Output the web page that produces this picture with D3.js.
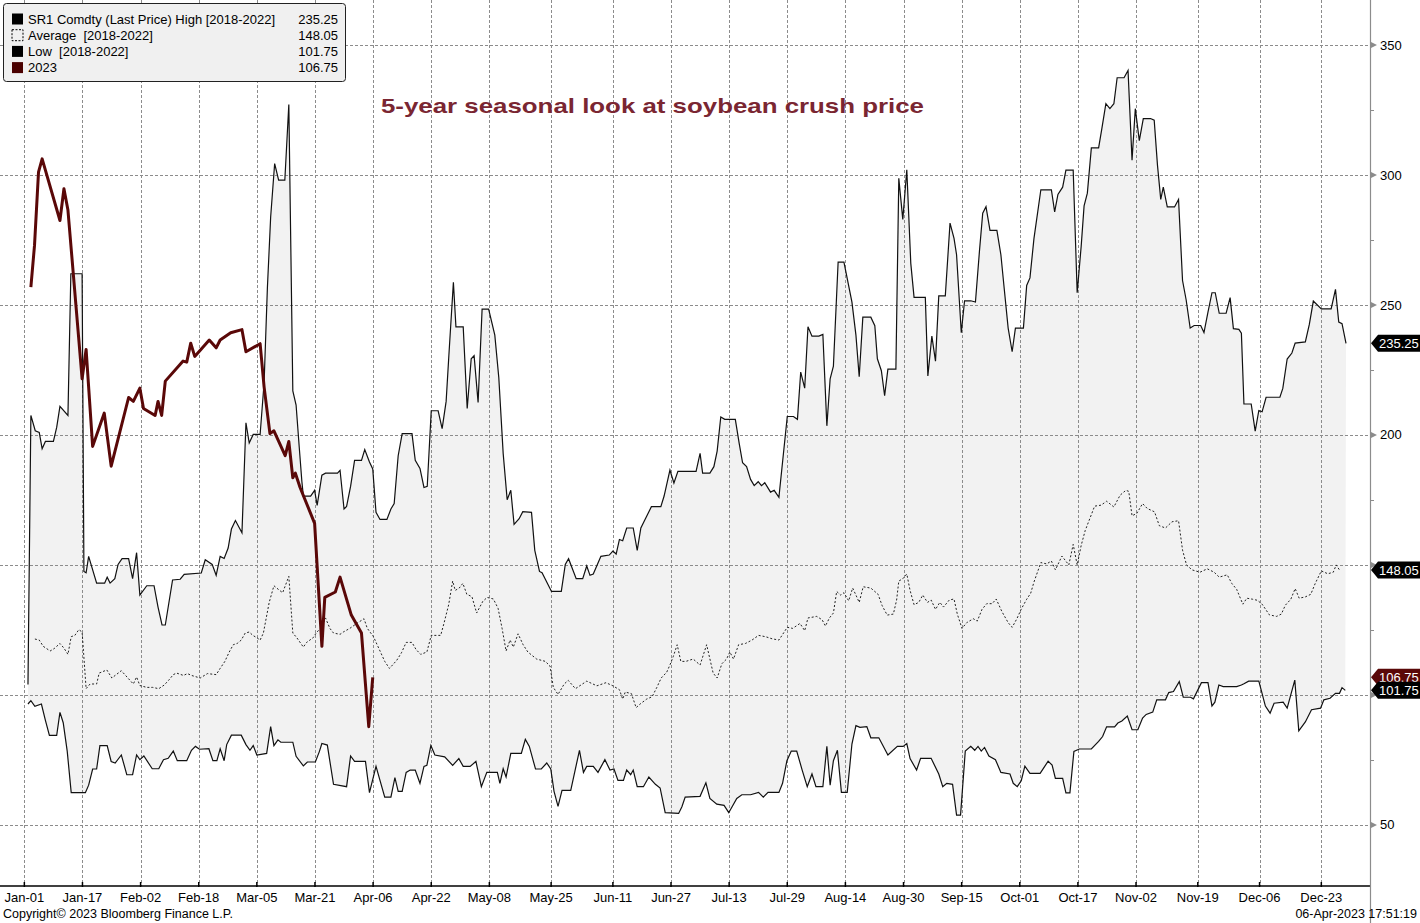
<!DOCTYPE html>
<html>
<head>
<meta charset="utf-8">
<script src="https://cdn.jsdelivr.net/npm/d3@7"></script>
<style>
  body { margin: 0; background: #fff; }
  svg text { font-family: "Liberation Sans", Arial, sans-serif; }
</style>
</head>
<body>
<div id="chart"></div>
<script>
const width = 1420
const height = 923
const plotRight = 1370
const plotBottom = 886

// x tick labels (seasonal calendar, leap-year based)
const tickLabels = ["Jan-01", "Jan-17", "Feb-02", "Feb-18", "Mar-05", "Mar-21", "Apr-06", "Apr-22",
    "May-08", "May-25", "Jun-11", "Jun-27", "Jul-13", "Jul-29", "Aug-14", "Aug-30", "Sep-15",
    "Oct-01", "Oct-17", "Nov-02", "Nov-19", "Dec-06", "Dec-23"]
const yTicks = [50, 100, 150, 200, 250, 300, 350]
const yMinorTicks = [75, 125, 175, 225, 275, 325]

// [day of year, value]
const high = [[1.0,104],[1.8,207.5],[3.0,201.6],[4.1,201],[4.9,194.7],[5.8,197.5],[8.0,197.5],[8.9,202.9],[9.8,211],[12.0,207.5],
    [12.8,262],[15.9,262],[16.4,147.5],[17.0,147],[17.7,153.3],[19.9,143],[22.1,143],[22.8,145.3],[23.6,143],[24.9,144.7],
    [25.8,150.2],[26.9,152.4],[28.7,152.4],[29.8,144.7],[30.9,154.7],[31.8,138.4],[33.7,142],[35.7,142],[36.8,133.8],[37.9,126.9],
    [38.8,126.9],[40.8,144.2],[42.9,144.5],[44.0,146.4],[48.7,146.9],[49.8,152],[51.7,150.2],[52.8,146],[53.9,153.3],[55.0,152.5],
    [56.1,156.5],[57.0,163.8],[58.1,167.1],[59.9,162.4],[61.0,204.7],[61.9,196.9],[63.0,200.2],[64.9,200.2],[66.0,220.2],[66.9,256.5],
    [67.8,283.8],[68.9,304.4],[70.0,298],[71.7,298],[72.8,327.1],[73.9,216.9],[74.8,211.5],[75.7,194.7],[76.4,182],[76.8,176.5],
    [78.8,176.5],[79.9,178.7],[80.6,172.9],[81.9,184.5],[82.9,185.3],[86.2,185.3],[86.9,186.4],[88.0,171.5],[88.7,172.5],[89.8,180.2],
    [90.9,190.2],[92.8,190.2],[93.7,194.4],[95.0,189.6],[95.9,186.9],[96.8,170.2],[97.9,167.5],[99.8,167.5],[100.9,171.5],[101.8,173.6],
    [102.9,192],[104.0,200.5],[106.7,200.5],[107.6,190.2],[108.9,187.1],[110.0,179.8],[110.9,180.2],[112.0,209.3],[113.9,209.3],[115.0,202.4],
    [116.1,212.9],[116.8,229.3],[118.1,258.7],[118.8,241.6],[120.8,241.6],[121.9,210.2],[123.0,229.3],[123.8,230.5],[124.9,212.5],[126.0,248.4],
    [127.8,248.4],[129.5,238.4],[130.6,222],[131.8,192.9],[132.9,175.1],[133.9,178.7],[134.8,165.6],[136.2,167.8],[137.2,170.5],[139.6,170.2],
    [140.5,155.6],[141.8,147.5],[142.5,147],[145.1,139.8],[147.8,139.8],[148.9,150.2],[149.8,152.4],[151.9,144.7],[153.7,144.7],[154.8,149.6],
    [155.7,146],[156.6,146.5],[158.7,153.3],[161.0,153.8],[162.0,155.3],[162.9,154.2],[163.8,159.8],[164.7,159.3],[165.8,164.2],[167.6,164.2],
    [168.7,155.6],[169.7,164.2],[171.5,169.3],[172.6,172.4],[175.2,172.4],[176.1,176.5],[177.7,186.5],[178.8,181.5],[179.9,186],[184.9,186],
    [186.0,192.9],[186.7,185.3],[188.7,185.3],[189.8,187.8],[190.7,193.8],[191.7,206.9],[192.8,206],[195.7,206],[196.8,196.5],[197.7,189.3],
    [198.8,187.8],[199.9,182.9],[200.9,180.5],[202.0,182],[202.9,180.5],[203.8,181.6],[205.4,178],[206.4,178.7],[207.7,176],[210.0,207.1],
    [211.7,207.1],[212.8,206],[213.7,224.2],[214.8,218],[215.7,241.6],[216.8,238],[218.7,238],[219.8,238.7],[220.9,203.5],[221.8,221.6],
    [222.7,226.5],[224.0,266.5],[225.6,266.5],[227.8,251.1],[228.9,238.4],[229.8,222.4],[230.8,245.3],[233.0,245.3],[234.1,242],[234.8,229.3],
    [235.9,224.7],[236.8,215.1],[237.7,225.3],[239.9,225.3],[240.7,298.7],[241.8,282.9],[242.9,302],[244.0,266],[244.9,252.9],[248.0,252.9],
    [248.7,222.7],[249.8,238],[250.8,228.4],[251.7,253.5],[253.5,253.5],[254.8,281.5],[255.9,275.6],[256.6,269.3],[257.9,239.3],[258.8,251.6],
    [260.5,251.6],[261.8,251.1],[262.9,270.7],[263.8,285.3],[264.7,287.8],[265.8,278.7],[267.7,278.7],[268.8,269.3],[269.7,256.5],[270.8,241.1],
    [271.9,232],[272.8,241.1],[275.0,241.1],[275.9,257.5],[276.8,260.4],[277.9,275.5],[279.8,294.3],[282.7,294.3],[283.6,285.8],[284.5,292.5],
    [285.8,295.3],[286.7,301.9],[288.7,301.9],[289.8,254.7],[290.9,272.6],[291.7,288.1],[292.6,293],[293.7,310.4],[295.7,310.4],[296.6,317.9],
    [297.7,327.4],[298.8,325.5],[299.9,327.4],[300.8,337.4],[302.7,337.4],[303.8,340.2],[304.9,305.7],[305.8,325.5],[306.9,313.2],[308.0,321.7],
    [310.0,321.7],[311.0,321.1],[311.9,303.8],[312.8,290.6],[313.5,295.3],[314.6,287.7],[316.6,287.7],[317.7,290.6],[318.8,259.4],[319.8,251.9],
    [320.9,241.1],[322.0,242.1],[323.8,242.1],[324.7,239.4],[325.8,247.2],[326.9,254.7],[327.8,254.7],[328.9,246.8],[330.8,246.8],[331.9,252.8],
    [332.8,240.9],[334.3,240.6],[335.0,239.1],[335.7,211.9],[337.7,211.9],[338.8,201.5],[339.8,209.4],[340.7,208.9],[341.8,214.5],[345.6,214.5],
    [346.4,217.9],[347.6,229.2],[348.9,231.5],[349.8,235.3],[352.6,235.8],[353.7,242.5],[354.8,251.5],[357.0,248.5],[359.7,248.5],[360.9,256],
    [361.8,243.4],[362.7,242.8],[363.8,235.25]]

const average = [[2.9,121.5],[4.1,121.1],[5.2,118.7],[7.1,116.9],[8.2,117.8],[9.8,119.8],[10.9,118],[12.0,115.6],[12.9,122.4],[13.9,122.9],
    [15.0,125.1],[15.9,124.2],[17.0,102.4],[18.1,104.2],[19.9,104.2],[20.6,108.4],[22.7,109.6],[24.1,106.5],[25.0,107.5],[26.7,109.3],
    [28.5,106.5],[30.0,104.2],[30.9,106.9],[31.8,103.6],[33.7,102.9],[35.3,102.9],[37.0,102.4],[38.5,103.8],[39.7,105.6],[41.0,107.8],
    [41.9,108.4],[43.8,107.5],[44.9,108.2],[46.0,107.5],[48.4,106.5],[50.4,108.2],[52.8,107.8],[53.9,110.2],[55.2,112.9],[56.4,116.5],
    [57.5,119.3],[58.6,119.8],[59.7,121.1],[60.8,123.8],[61.9,124.2],[62.9,122.9],[64.0,122],[64.9,121.1],[65.8,123.8],[67.4,135.6],
    [68.7,142],[70.0,140.5],[71.1,139.3],[72.8,145.6],[73.9,123.8],[75.0,122],[76.8,118.4],[77.7,120.2],[79.5,122],[80.5,124.2],
    [81.7,125.6],[82.9,129.6],[84.1,125.6],[85.1,123.8],[86.9,123.3],[87.8,124.2],[89.6,125.6],[91.5,127.5],[93.5,129.3],[94.4,125.6],
    [96.1,122.4],[97.9,116.9],[99.2,112.9],[100.5,110.2],[102.5,113.3],[103.8,116.2],[105.1,120.2],[106.7,120.2],[107.8,117.5],[109.1,115.6],
    [110.8,116.5],[112.0,122.9],[114.6,122.9],[115.5,127.5],[116.8,134.7],[117.9,143.8],[118.6,140.2],[119.7,141.1],[120.7,142.9],[121.8,138.7],
    [123.2,137.8],[124.5,131.5],[126.2,136],[127.4,137.5],[129.1,136.9],[130.4,133.3],[131.5,125.6],[132.6,116.9],[133.7,121.1],[134.6,118.4],
    [135.9,123.5],[137.3,119.3],[138.6,116.5],[141.0,113.8],[143.4,112.9],[144.7,111.1],[145.6,102.9],[146.9,100.2],[148.6,104.2],[149.7,105.6],
    [151.7,102.4],[154.8,105.3],[157.6,103.5],[160.1,104.7],[162.0,103.5],[163.8,102],[164.7,98.4],[165.4,101.1],[167.1,100.5],[168.4,95.1],
    [169.5,96.5],[171.3,98.4],[172.8,99.3],[174.1,102.9],[175.3,106.5],[176.8,108.7],[177.7,111.5],[178.6,114.7],[179.7,119.3],[180.7,112.9],
    [182.1,112.9],[184.1,113.8],[186.0,111.5],[187.8,119.3],[189.6,108.4],[190.7,106.5],[192.0,112],[193.3,113.8],[194.2,116.5],[195.2,113.8],
    [196.6,119.3],[198.5,119.8],[200.3,121.1],[202.1,122.9],[204.0,122.4],[205.8,121.6],[207.7,121.1],[210.0,126],[211.5,125.6],[213.5,127.5],
    [214.8,124.7],[215.7,129.6],[218.1,130.2],[219.6,128.9],[220.5,126.5],[221.6,129.6],[222.7,131.5],[223.6,139.8],[224.7,138.4],[225.6,139.3],
    [226.9,136.2],[228.0,141.1],[228.9,138.4],[229.8,135.6],[230.9,141.6],[233.0,141.1],[235.0,138.7],[236.1,134.4],[237.5,130.7],[239.2,131.1],
    [240.1,136.5],[240.7,143.8],[241.8,144.7],[242.9,146.5],[243.8,140.2],[244.9,134.7],[246.2,135.6],[247.3,138.4],[248.6,135.6],[249.6,136.5],
    [250.8,132.9],[252.0,135.6],[253.0,133.8],[254.6,136.5],[255.9,136.9],[256.8,131.1],[258.1,125.6],[259.4,127.8],[261.2,129.3],[262.3,128.4],
    [263.6,132.9],[264.9,135.1],[266.4,135.1],[267.5,136.9],[269.1,132],[270.8,127.8],[271.9,126],[273.2,129.3],[274.4,133],[275.9,136.8],
    [277.0,139.1],[277.9,143.4],[279.8,150.9],[281.4,150.4],[282.7,151.5],[283.8,148.1],[285.6,153.4],[287.5,150],[288.7,157.9],[289.8,150],
    [290.9,157.5],[292.0,163.2],[293.3,167.9],[294.6,172.6],[296.4,173],[297.9,174.5],[299.9,172.3],[301.6,176.8],[303.2,178.7],[304.0,178.3],
    [304.9,168.9],[306.2,169.8],[307.8,173.6],[309.1,171.7],[311.1,170.4],[312.4,165.1],[314.1,164.2],[315.9,166.6],[317.7,167],[318.8,155.7],
    [319.9,150],[321.4,148.1],[323.6,147.2],[325.6,148.5],[327.5,147.2],[328.9,145.3],[331.1,146.2],[332.4,142.8],[333.7,140.6],[335.4,134.9],
    [336.5,137.2],[338.1,136.8],[339.4,136.4],[340.7,134.9],[342.7,130.8],[344.7,130.2],[346.0,131.1],[347.1,134.5],[348.6,136.8],[349.8,140.9],
    [350.9,137.2],[352.6,137.7],[354.1,138.7],[355.3,142.8],[357.0,147.7],[358.8,146.6],[360.3,147.2],[361.1,150],[362.0,148.05]]

const low = [[1.0,96.5],[1.8,97.8],[2.9,95.6],[4.7,96.5],[5.8,90.2],[6.9,84.4],[8.9,84.4],[9.8,93.3],[10.7,89.3],[11.8,78.4],
    [12.9,62.4],[16.8,62.4],[17.7,65.3],[18.8,71.5],[19.9,71.5],[20.8,80.5],[22.8,80.5],[23.9,74.4],[25.0,73.8],[26.7,76.9],
    [28.2,69.3],[29.8,69.3],[30.9,76.9],[31.8,75.1],[32.9,76.5],[35.2,71.6],[37.0,71.6],[38.3,75.1],[39.6,75.6],[41.0,78.4],
    [42.1,74.7],[44.7,74.7],[46.0,78.7],[47.1,80.2],[48.2,79.1],[50.8,79.3],[51.9,74.7],[53.0,74.7],[53.9,79.3],[55.0,74.7],
    [55.7,80.9],[57.0,84.5],[59.7,84.5],[61.0,80.9],[62.1,78.7],[63.0,80.5],[64.0,76.9],[66.7,77.5],[67.8,87.8],[68.7,80.5],
    [69.8,82.7],[70.6,81.8],[73.9,81.8],[74.8,76.4],[76.8,72.7],[77.9,74.2],[80.1,74.2],[81.2,78.2],[81.9,81.3],[83.4,80.7],
    [85.1,65.6],[88.7,64.7],[89.8,76.5],[90.9,74.4],[93.9,74.4],[95.0,62.4],[96.8,72.5],[99.2,60.7],[100.9,60.7],[102.0,68.2],
    [102.9,62.9],[104.0,62.9],[105.1,70.2],[106.2,71.1],[107.6,71.1],[108.9,66],[110.0,72.5],[110.8,72.9],[111.9,80.5],[113.0,76.9],
    [115.7,76.2],[117.9,72.9],[119.6,75.5],[120.8,72.5],[122.7,72.5],[124.3,74.4],[125.8,64.7],[127.3,70.2],[130.2,70.2],[130.9,66],
    [131.8,71.6],[132.6,68.4],[133.9,77.5],[136.8,77.5],[137.9,82.9],[139.0,80.2],[140.7,71.5],[142.3,71.5],[143.8,73.8],[144.9,71.5],
    [145.8,62.9],[146.9,57.1],[148.0,63.3],[150.4,63.3],[152.8,78.7],[153.9,70.2],[154.8,72.5],[156.6,72.5],[157.9,70.2],[159.8,75.1],
    [161.2,71.1],[162.3,71.5],[163.4,67.1],[164.9,67.1],[165.8,71.1],[166.9,69.3],[167.6,71.1],[168.7,64.7],[170.4,64.7],[171.9,68.4],
    [173.7,65.6],[175.0,64.2],[176.4,54.7],[180.1,54.4],[181.0,57],[181.9,60.7],[186.0,61],[187.6,66.2],[188.7,60.2],[190.6,58],
    [192.6,57.5],[193.9,54.7],[196.1,60.2],[197.5,61.6],[199.9,61.6],[202.1,62.5],[203.4,60.7],[204.7,62.5],[207.7,62.5],[208.7,66],
    [209.9,74.7],[211.1,78.4],[212.6,78.4],[214.1,71.1],[215.5,64.7],[216.8,69.6],[217.9,64.7],[219.8,64.7],[220.9,80.2],[221.8,65.3],
    [222.7,74.7],[223.8,78.7],[224.9,62.5],[226.5,62.5],[227.8,81.1],[228.9,88.2],[230.0,87.5],[231.9,87.8],[233.0,83.5],[235.2,83.5],
    [237.7,76.9],[240.3,80.2],[241.9,80.2],[242.9,81.3],[243.8,75.5],[245.6,71.1],[246.7,75.6],[249.6,75.6],[251.7,69.6],[252.8,64.7],
    [253.9,66],[255.5,65.6],[256.6,53.8],[257.7,53.8],[259.0,78.4],[260.5,80.2],[261.6,78.7],[262.5,80.2],[263.4,78.4],[264.3,79.8],
    [265.5,76.5],[267.3,75.1],[268.8,70.2],[271.3,69.6],[272.2,66],[273.3,64.7],[274.4,67],[275.4,72.6],[276.8,69.8],[279.6,69.8],
    [281.8,74.5],[282.9,73],[283.8,67.9],[285.8,67.9],[286.7,62.3],[287.8,62.3],[288.9,78.3],[290.4,79.2],[293.7,79.2],[295.7,82.1],
    [296.8,84],[297.9,87.7],[300.1,87.7],[301.0,89.2],[302.1,90],[303.6,91.9],[304.9,86.6],[306.5,86.6],[307.8,91.1],[308.8,92.5],
    [310.6,93.4],[311.7,98.1],[314.1,98.1],[315.0,100.9],[316.3,101.3],[317.9,105.1],[319.0,99.1],[321.0,99.1],[321.8,98.5],[324.0,104.7],
    [325.8,104.7],[326.9,95.7],[327.7,97.2],[328.8,103.8],[330.0,103.2],[333.7,103.2],[335.0,103.8],[335.7,104.3],[337.0,105.3],[339.8,105.3],
    [341.6,95.7],[342.9,93],[344.0,96.8],[346.5,97.2],[347.6,94.9],[349.7,105.7],[350.8,86.2],[352.6,89.6],[354.3,94.3],[356.8,94.9],
    [357.7,98.1],[359.4,98.7],[360.9,100.6],[362.0,100.6],[362.7,102.8],[363.6,101.75]]

const y2023 = [[1.8,256.9],[2.8,272.9],[3.9,301.1],[4.9,306.2],[9.8,282.5],[10.9,294.7],[12.0,286.5],[15.9,221.6],[17.0,232.9],[18.8,195.6],
    [22.0,208.4],[23.9,188],[28.7,214.4],[30.0,212.9],[31.8,218],[32.8,210.2],[36.0,207.5],[36.8,212.9],[37.8,207.5],[38.8,220.7],
    [43.7,228.4],[44.7,228],[45.8,235.3],[46.9,230.2],[50.9,236.5],[52.8,233.5],[53.9,236.5],[56.8,239.3],[59.9,240.5],[61.0,232],
    [64.9,235.1],[66.0,218.4],[67.6,200.5],[68.7,201.6],[71.8,192],[72.8,197.5],[73.9,183.5],[74.6,185.3],[75.9,179.8],[79.9,166],
    [81.9,118.7],[82.7,137.5],[85.6,139.6],[86.9,145.3],[90.0,130.7],[92.8,123.8],[94.8,87.8],[95.9,106.75]]

const legendLabels = ["SR1 Comdty (Last Price) High [2018-2022]", "Average  [2018-2022]", "Low  [2018-2022]", "2023"]
const legendValues = ["235.25", "148.05", "101.75", "106.75"]

const title = "5-year seasonal look at soybean crush price"
const copyright = "Copyright\u00a9 2023 Bloomberg Finance L.P."
const stamp = "06-Apr-2023 17:51:19"

const red = "#5a0808"

const jan1 = new Date(2020, 0, 1)
const toDate = d => new Date(jan1.getTime() + d * 864e5)
const parseTick = d3.timeParse("%Y %b-%d")

const svg = d3.select("div#chart").append("svg").attr("width", width).attr("height", height)
    .style("display", "block")

svg.append("rect").attr("width", width).attr("height", height).attr("fill", "#fff")

const x = d3.scaleTime().domain([toDate(-6.7), toDate(370.4)]).range([0, plotRight])
const y = d3.scaleLinear().domain([26.5, 367.3]).range([plotBottom, 0])

// band between high and low
const bandPts = high.concat(low.slice().reverse())
svg.append("path")
    .attr("d", d3.line().x(d => x(toDate(d[0]))).y(d => y(d[1]))(bandPts) + "Z")
    .attr("fill", "#f2f2f2")

// grid
const gridGroup = svg.append("g").attr("class", "grid")
gridGroup.selectAll("line.h").data(yTicks).join("line").attr("class", "h")
    .attr("x1", 0).attr("x2", plotRight)
    .attr("y1", d => Math.round(y(d)) + 0.5).attr("y2", d => Math.round(y(d)) + 0.5)
    .attr("stroke", "#8c8c8c").attr("stroke-dasharray", "3,2")
gridGroup.selectAll("line.v").data(tickLabels).join("line").attr("class", "v")
    .attr("x1", d => Math.round(x(parseTick("2020 " + d))) + 0.5)
    .attr("x2", d => Math.round(x(parseTick("2020 " + d))) + 0.5)
    .attr("y1", 0).attr("y2", plotBottom)
    .attr("stroke", "#8c8c8c").attr("stroke-dasharray", "3,2")

// series
const line = d3.line().x(d => x(toDate(d[0]))).y(d => y(d[1]))
svg.append("path").attr("d", line(high)).attr("fill", "none").attr("stroke", "#111").attr("stroke-width", 1.2)
svg.append("path").attr("d", line(low)).attr("fill", "none").attr("stroke", "#111").attr("stroke-width", 1.2)
svg.append("path").attr("d", line(average)).attr("fill", "none").attr("stroke", "#222")
    .attr("stroke-width", 1).attr("stroke-dasharray", "2,2")
svg.append("path").attr("d", line(y2023)).attr("fill", "none").attr("stroke", red)
    .attr("stroke-width", 3).attr("stroke-linejoin", "round")

// x axis
const xAxisGroup = svg.append("g").attr("transform", `translate(0, ${plotBottom})`)
xAxisGroup.append("line").attr("x1", 0).attr("x2", plotRight).attr("stroke", "#000").attr("stroke-width", 1.5)
xAxisGroup.selectAll("line.tick").data(tickLabels).join("line").attr("class", "tick")
    .attr("x1", d => x(parseTick("2020 " + d))).attr("x2", d => x(parseTick("2020 " + d)))
    .attr("y1", -4).attr("y2", 1).attr("stroke", "#000").attr("stroke-width", 1.5)
xAxisGroup.selectAll("text").data(tickLabels).join("text")
    .attr("x", d => x(parseTick("2020 " + d))).attr("y", 16)
    .attr("text-anchor", "middle").attr("font-size", 13).attr("fill", "#000")
    .text(d => d)

// last value tags
const tagData = [
    { v: y2023[y2023.length - 1][1], label: legendValues[3], color: red },
    { v: high[high.length - 1][1], label: legendValues[0], color: "#000" },
    { v: average[average.length - 1][1], label: legendValues[1], color: "#000" },
    { v: low[low.length - 1][1], label: legendValues[2], color: "#000" },
]

// y axis (right); labels hidden behind a value tag are dropped, as in the terminal view
const yAxisGroup = svg.append("g")
yAxisGroup.append("line").attr("x1", plotRight + 0.5).attr("x2", plotRight + 0.5)
    .attr("y1", 0).attr("y2", height).attr("stroke", "#8c8c8c").attr("stroke-width", 1.2)
yAxisGroup.selectAll("path.tri").data(yTicks).join("path").attr("class", "tri")
    .attr("d", d => `M${plotRight},${y(d) - 3.5}L${plotRight + 7},${y(d)}L${plotRight},${y(d) + 3.5}Z`)
    .attr("fill", "#8c8c8c")
yAxisGroup.selectAll("line.minor").data(yMinorTicks).join("line").attr("class", "minor")
    .attr("x1", plotRight).attr("x2", plotRight + 4)
    .attr("y1", d => Math.round(y(d)) + 0.5).attr("y2", d => Math.round(y(d)) + 0.5)
    .attr("stroke", "#8c8c8c")
const freeTicks = yTicks.filter(t => tagData.every(g => Math.abs(y(g.v) - y(t)) > 14))
yAxisGroup.selectAll("text").data(freeTicks).join("text")
    .attr("x", plotRight + 10).attr("y", d => y(d)).attr("dy", "0.35em")
    .attr("font-size", 13).attr("fill", "#000").text(d => d)

const tags = svg.append("g").selectAll("g").data(tagData).join("g")
    .attr("transform", d => `translate(${plotRight + 1}, ${y(d.v)})`)
tags.append("path").attr("d", "M0,0L7,-8.5L52,-8.5L52,8.5L7,8.5Z").attr("fill", d => d.color)
tags.append("text").attr("x", 8).attr("dy", "0.36em").attr("font-size", 13).attr("fill", "#fff")
    .text(d => d.label)

// title
svg.append("text").attr("x", 381).attr("y", 113)
    .attr("font-family", "'DejaVu Sans', Verdana, sans-serif").attr("font-weight", "bold")
    .attr("font-size", 21).attr("fill", "#7a2632")
    .attr("textLength", 543).attr("lengthAdjust", "spacingAndGlyphs")
    .text(title)

// legend
const legend = svg.append("g").attr("transform", "translate(3.5, 3.5)")
legend.append("rect").attr("width", 342).attr("height", 78).attr("rx", 3)
    .attr("fill", "#f0f0f0").attr("stroke", "#222")
const rows = legend.selectAll("g").data(legendLabels).join("g")
    .attr("transform", (d, i) => `translate(0, ${15.5 + i * 16.2})`)
rows.append("rect").attr("x", 8.5).attr("y", -5.5).attr("width", 11).attr("height", 11)
    .attr("fill", (d, i) => i === 1 ? "none" : i === 3 ? "#4a0000" : "#000")
    .attr("stroke", (d, i) => i === 1 ? "#000" : "none")
    .attr("stroke-dasharray", (d, i) => i === 1 ? "2,1.5" : null)
rows.append("text").attr("x", 24.5).attr("dy", "0.36em").attr("font-size", 13).attr("fill", "#000")
    .attr("xml:space", "preserve").style("white-space", "pre").text(d => d)
rows.append("text").attr("x", 334.5).attr("dy", "0.36em").attr("text-anchor", "end")
    .attr("font-size", 13).attr("fill", "#000").text((d, i) => legendValues[i])

// footer
svg.append("text").attr("x", 3).attr("y", 918).attr("font-size", 12.5).attr("fill", "#000").text(copyright)
svg.append("text").attr("x", 1417).attr("y", 918).attr("text-anchor", "end")
    .attr("font-size", 12.5).attr("fill", "#000").text(stamp)
</script>
</body>
</html>
